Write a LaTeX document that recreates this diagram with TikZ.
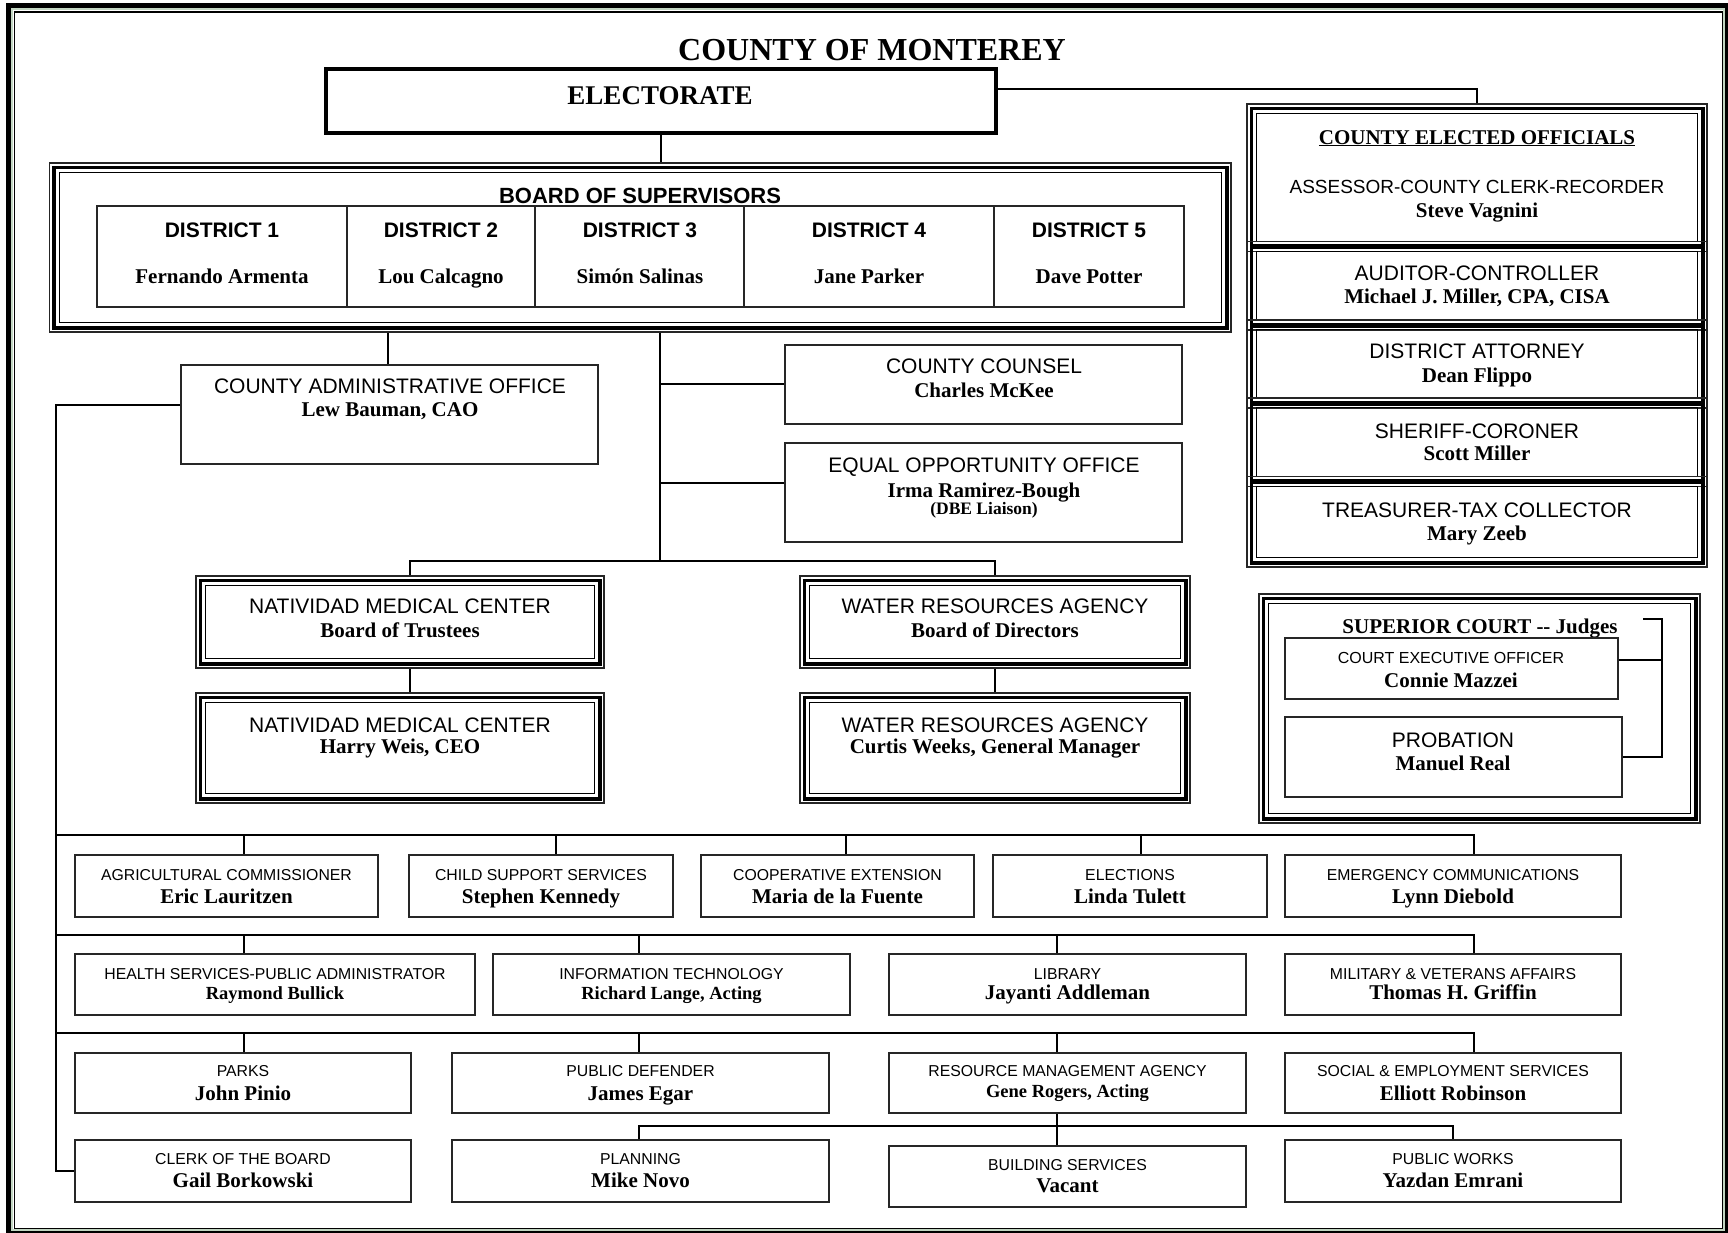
\documentclass[tikz,border=0pt]{standalone}
\usepackage{fontspec}
\setmainfont{Liberation Serif}
\newfontfamily\sansf{Liberation Sans}
\usetikzlibrary{fit,calc}
\tikzset{
 box/.style={draw=black!85, line width=1.8pt, inner sep=0pt},
 tribox/.style={draw=black!85, line width=1.2pt, inner sep=0pt},
 conn/.style={draw=black, line width=1.3pt},
 ttl/.style={font=\sansf\fontsize{21}{21}\selectfont, anchor=base, inner sep=0pt},
 ttls/.style={font=\sansf\fontsize{15.8}{16}\selectfont, anchor=base, inner sep=0pt},
 nm/.style={font=\bfseries\fontsize{21}{21}\selectfont, anchor=base, inner sep=0pt},
 nms/.style={font=\bfseries\fontsize{18.5}{19}\selectfont, anchor=base, inner sep=0pt},
 dtl/.style={font=\sansf\bfseries\fontsize{21}{21}\selectfont, anchor=base, inner sep=0pt},
}
\newcommand\tribord[1]{%
 \draw[line width=3.8pt] ([xshift=5pt,yshift=5pt]#1.south west) rectangle ([xshift=-5pt,yshift=-5pt]#1.north east);
 \draw[line width=1.1pt] ([xshift=10.5pt,yshift=10.5pt]#1.south west) rectangle ([xshift=-10.5pt,yshift=-10.5pt]#1.north east);}
\begin{document}
\begin{tikzpicture}[x=1pt,y=-1pt]
\useasboundingbox (0,0) rectangle (1728,1232);
% page frame
\draw[line width=5pt] (8.5,5.8) rectangle (1726.5,1231.5);
\draw[line width=2pt, draw=green!20!gray!40] (11.8,9.3) rectangle (1723.8,1229.5);
\draw[line width=1.5pt] (14.3,11.8) rectangle (1722.5,1228.3);

\node[font=\bfseries\fontsize{32}{32}\selectfont, anchor=base, inner sep=0pt] (title) at (872,60) {COUNTY OF MONTEREY};

% electorate
\node[draw, line width=4.5pt, inner sep=0pt, fit={(326,69) (996,133)}] (elect) {};
\node[font=\bfseries\fontsize{27}{27}\selectfont, anchor=base, inner sep=0pt] (elect-t) at (660,104) {ELECTORATE};

% board of supervisors
\node[tribox, fit={(49.5,163) (1231,332)}] (bos) {};
\tribord{bos}
\node[font=\sansf\bfseries\fontsize{22}{22}\selectfont, anchor=base, inner sep=0pt] (bos-t) at (640,203) {BOARD OF SUPERVISORS};
\node[box, fit={(97,206) (1184,307)}] (dist) {};
\foreach \xx in {347,535,744,994} \draw[box] (\xx,206) -- (\xx,307);
\node[dtl] (d1-t) at (222,237) {DISTRICT 1};
\node[dtl] (d2-t) at (441,237) {DISTRICT 2};
\node[dtl] (d3-t) at (640,237) {DISTRICT 3};
\node[dtl] (d4-t) at (869,237) {DISTRICT 4};
\node[dtl] (d5-t) at (1089,237) {DISTRICT 5};
\node[nm] (d1-n) at (222,283) {Fernando Armenta};
\node[nm] (d2-n) at (441,283) {Lou Calcagno};
\node[nm] (d3-n) at (640,283) {Simón Salinas};
\node[nm] (d4-n) at (869,283) {Jane Parker};
\node[nm] (d5-n) at (1089,283) {Dave Potter};

% CAO, counsel, EOO
\node[box, fit={(181,365) (598,464)}] (cao) {};
\node[ttl] (cao-t) at (390,393) {COUNTY ADMINISTRATIVE OFFICE};
\node[nm] (cao-n) at (390,416) {Lew Bauman, CAO};
\node[box, fit={(785,345) (1182,424)}] (counsel) {};
\node[ttl] (counsel-t) at (984,373) {COUNTY COUNSEL};
\node[nm] (counsel-n) at (984,397) {Charles McKee};
\node[box, fit={(785,443) (1182,542)}] (eoo) {};
\node[ttl] (eoo-t) at (984,472) {EQUAL OPPORTUNITY OFFICE};
\node[nm] (eoo-n) at (984,497) {Irma Ramirez-Bough};
\node[font=\bfseries\fontsize{17.5}{17.5}\selectfont, anchor=base, inner sep=0pt] (eoo-d) at (984,514) {(DBE Liaison)};

% Natividad & Water
\node[tribox, fit={(196,576) (604,668)}] (nat1) {};
\tribord{nat1}
\node[ttl] (nat1-t) at (400,613) {NATIVIDAD MEDICAL CENTER};
\node[nm] (nat1-n) at (400,637) {Board of Trustees};
\node[tribox, fit={(196,693) (604,803)}] (nat2) {};
\tribord{nat2}
\node[ttl] (nat2-t) at (400,732) {NATIVIDAD MEDICAL CENTER};
\node[nm] (nat2-n) at (400,753) {Harry Weis, CEO};
\node[tribox, fit={(800,576) (1190,668)}] (wra1) {};
\tribord{wra1}
\node[ttl] (wra1-t) at (995,613) {WATER RESOURCES AGENCY};
\node[nm] (wra1-n) at (995,637) {Board of Directors};
\node[tribox, fit={(800,693) (1190,803)}] (wra2) {};
\tribord{wra2}
\node[ttl] (wra2-t) at (995,732) {WATER RESOURCES AGENCY};
\node[nm] (wra2-n) at (995,753) {Curtis Weeks, General Manager};

% elected officials stack
\node[tribox, fit={(1247,104) (1707,251.5)}] (ceo1) {};
\tribord{ceo1}
\node[tribox, fit={(1247,241.5) (1707,330)}] (ceo2) {};
\tribord{ceo2}
\node[tribox, fit={(1247,320) (1707,408)}] (ceo3) {};
\tribord{ceo3}
\node[tribox, fit={(1247,398) (1707,486.5)}] (ceo4) {};
\tribord{ceo4}
\node[tribox, fit={(1247,476.5) (1707,567)}] (ceo5) {};
\tribord{ceo5}
\node[nm] (ceo-h) at (1477,144) {\underline{COUNTY ELECTED OFFICIALS}};
\node[font=\sansf\fontsize{19}{19}\selectfont, anchor=base, inner sep=0pt] (ceo1-t) at (1477,193) {ASSESSOR-COUNTY CLERK-RECORDER};
\node[nm] (ceo1-n) at (1477,217) {Steve Vagnini};
\node[ttl] (ceo2-t) at (1477,280) {AUDITOR-CONTROLLER};
\node[nm] (ceo2-n) at (1477,303) {Michael J. Miller, CPA, CISA};
\node[ttl] (ceo3-t) at (1477,358) {DISTRICT ATTORNEY};
\node[nm] (ceo3-n) at (1477,382) {Dean Flippo};
\node[ttl] (ceo4-t) at (1477,438) {SHERIFF-CORONER};
\node[nm] (ceo4-n) at (1477,460) {Scott Miller};
\node[ttl] (ceo5-t) at (1477,517) {TREASURER-TAX COLLECTOR};
\node[nm] (ceo5-n) at (1477,540) {Mary Zeeb};

% superior court
\node[tribox, fit={(1259,594) (1700,823)}] (sup) {};
\tribord{sup}
\node[nm] (sup-t) at (1480,633) {SUPERIOR COURT {-}{-} Judges};
\node[box, fit={(1285,638) (1618,699)}] (cexec) {};
\node[font=\sansf\fontsize{16}{16}\selectfont, anchor=base, inner sep=0pt] (cexec-t) at (1451,663) {COURT EXECUTIVE OFFICER};
\node[nm] (cexec-n) at (1451,687) {Connie Mazzei};
\node[box, fit={(1285,717) (1622,797)}] (prob) {};
\node[ttl] (prob-t) at (1453,747) {PROBATION};
\node[nm] (prob-n) at (1453,770) {Manuel Real};

% row 1
\node[box, fit={(75,855) (378,917)}] (ag) {};
\node[ttls] (ag-t) at (226.5,880) {AGRICULTURAL COMMISSIONER};
\node[nm] (ag-n) at (226.5,903) {Eric Lauritzen};
\node[box, fit={(409,855) (673,917)}] (css) {};
\node[ttls] (css-t) at (541,880) {CHILD SUPPORT SERVICES};
\node[nm] (css-n) at (541,903) {Stephen Kennedy};
\node[box, fit={(701,855) (974,917)}] (coop) {};
\node[ttls] (coop-t) at (837.5,880) {COOPERATIVE EXTENSION};
\node[nm] (coop-n) at (837.5,903) {Maria de la Fuente};
\node[box, fit={(993,855) (1267,917)}] (elec) {};
\node[ttls] (elec-t) at (1130,880) {ELECTIONS};
\node[nm] (elec-n) at (1130,903) {Linda Tulett};
\node[box, fit={(1285,855) (1621,917)}] (emerg) {};
\node[ttls] (emerg-t) at (1453,880) {EMERGENCY COMMUNICATIONS};
\node[nm] (emerg-n) at (1453,903) {Lynn Diebold};

% row 2
\node[box, fit={(75,954) (475,1015)}] (hs) {};
\node[ttls] (hs-t) at (275,979) {HEALTH SERVICES-PUBLIC ADMINISTRATOR};
\node[nms] (hs-n) at (275,999) {Raymond Bullick};
\node[box, fit={(493,954) (850,1015)}] (it) {};
\node[ttls] (it-t) at (671.5,979) {INFORMATION TECHNOLOGY};
\node[nms] (it-n) at (671.5,999) {Richard Lange, Acting};
\node[box, fit={(889,954) (1246,1015)}] (lib) {};
\node[ttls] (lib-t) at (1067.5,979) {LIBRARY};
\node[nm] (lib-n) at (1067.5,999) {Jayanti Addleman};
\node[box, fit={(1285,954) (1621,1015)}] (mil) {};
\node[ttls] (mil-t) at (1453,979) {MILITARY \& VETERANS AFFAIRS};
\node[nm] (mil-n) at (1453,999) {Thomas H. Griffin};

% row 3
\node[box, fit={(75,1053) (411,1113)}] (parks) {};
\node[ttls] (parks-t) at (243,1076) {PARKS};
\node[nm] (parks-n) at (243,1100) {John Pinio};
\node[box, fit={(452,1053) (829,1113)}] (pd) {};
\node[ttls] (pd-t) at (640.5,1076) {PUBLIC DEFENDER};
\node[nm] (pd-n) at (640.5,1100) {James Egar};
\node[box, fit={(889,1053) (1246,1113)}] (rma) {};
\node[ttls] (rma-t) at (1067.5,1076) {RESOURCE MANAGEMENT AGENCY};
\node[nms] (rma-n) at (1067.5,1097) {Gene Rogers, Acting};
\node[box, fit={(1285,1053) (1621,1113)}] (ses) {};
\node[ttls] (ses-t) at (1453,1076) {SOCIAL \& EMPLOYMENT SERVICES};
\node[nm] (ses-n) at (1453,1100) {Elliott Robinson};

% row 4
\node[box, fit={(75,1140) (411,1202)}] (cob) {};
\node[ttls] (cob-t) at (243,1164) {CLERK OF THE BOARD};
\node[nm] (cob-n) at (243,1187) {Gail Borkowski};
\node[box, fit={(452,1140) (829,1202)}] (plan) {};
\node[ttls] (plan-t) at (640.5,1164) {PLANNING};
\node[nm] (plan-n) at (640.5,1187) {Mike Novo};
\node[box, fit={(889,1146) (1246,1207)}] (bld) {};
\node[ttls] (bld-t) at (1067.5,1170) {BUILDING SERVICES};
\node[nm] (bld-n) at (1067.5,1192) {Vacant};
\node[box, fit={(1285,1140) (1621,1202)}] (pw) {};
\node[ttls] (pw-t) at (1453,1164) {PUBLIC WORKS};
\node[nm] (pw-n) at (1453,1187) {Yazdan Emrani};

% ---------- connectors ----------
\draw[conn] (elect.south) -- (elect.south |- bos.north);
\draw[conn] ([yshift=12pt]elect.east) -| (ceo1.north);
\draw[conn] ([xshift=-1.5pt]cao.north) -- ([xshift=-1.5pt]cao.north |- bos.south);
\coordinate (spine) at (660,561);
\coordinate (eoob) at (660,483);
\coordinate (cnsb) at (660,384);
\draw[conn] (spine |- bos.south) -- (spine);
\draw[conn] (cnsb) -- (cnsb -| counsel.west);
\draw[conn] (eoob) -- (eoob -| eoo.west);
\coordinate (natdrop) at (410,561);
\draw[conn] (natdrop |- nat1.north) -- (natdrop) -- (natdrop -| wra1.north) -- (wra1.north);
\draw[conn] (natdrop |- nat1.south) -- (natdrop |- nat2.north);
\draw[conn] (wra1.south) -- (wra2.north);

% left spine from CAO
\coordinate (lspine) at (56,405);
\draw[conn] (lspine -| cao.west) -- (lspine) |- (cob.west);

% bus rows
\coordinate (bus1) at (56,835);
\coordinate (bus1e) at (1474,835);
\draw[conn] (bus1) -- (bus1e) -- (bus1e |- emerg.north);
\coordinate (dAg) at (244,835);
\coordinate (dCss) at (556,835);
\coordinate (dCoop) at (846,835);
\coordinate (dElec) at (1141,835);
\draw[conn] (dAg) -- (dAg |- ag.north);
\draw[conn] (dCss) -- (dCss |- css.north);
\draw[conn] (dCoop) -- (dCoop |- coop.north);
\draw[conn] (dElec) -- (dElec |- elec.north);

\coordinate (bus2) at (56,935);
\coordinate (bus2e) at (1474,935);
\draw[conn] (bus2) -- (bus2e) -- (bus2e |- mil.north);
\coordinate (dHs) at (244,935);
\coordinate (dIt) at (639,935);
\coordinate (dLib) at (1057,935);
\draw[conn] (dHs) -- (dHs |- hs.north);
\draw[conn] (dIt) -- (dIt |- it.north);
\draw[conn] (dLib) -- (dLib |- lib.north);

\coordinate (bus3) at (56,1033);
\coordinate (bus3e) at (1474,1033);
\draw[conn] (bus3) -- (bus3e) -- (bus3e |- ses.north);
\coordinate (dParks) at (244,1033);
\coordinate (dPd) at (639,1033);
\coordinate (dRma) at (1057,1033);
\draw[conn] (dParks) -- (dParks |- parks.north);
\draw[conn] (dPd) -- (dPd |- pd.north);
\draw[conn] (dRma) -- (dRma |- rma.north);

% RMA sub-bus
\coordinate (rbus) at (1057,1126);
\coordinate (dPl) at (639,1126);
\draw[conn] (rbus |- rma.south) -- (rbus |- bld.north);
\draw[conn] (dPl |- plan.north) -- (dPl) -- (dPl -| pw.north) -- (pw.north);

% superior court bracket
\coordinate (brk) at (1643,619);
\coordinate (brkr) at (1662,619);
\draw[conn] (brk) -- (brkr) |- (prob.east);
\draw[conn] ([yshift=8.5pt]cexec.east) -- ([yshift=8.5pt]cexec.east -| brkr);
\end{tikzpicture}
\end{document}
